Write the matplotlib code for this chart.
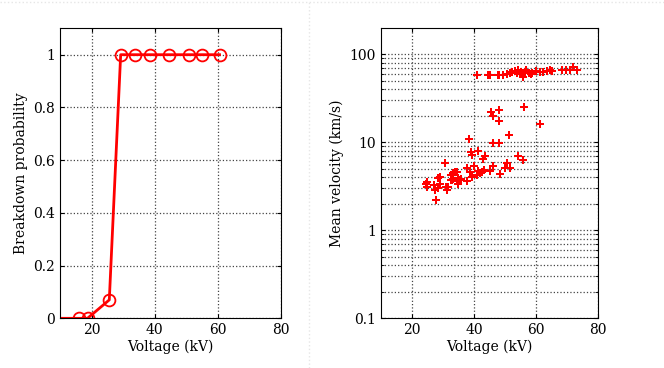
import numpy as np
import matplotlib
matplotlib.use('Agg')
import matplotlib.pyplot as plt
from matplotlib.ticker import FixedLocator, FuncFormatter, LogLocator, NullFormatter

# breakdown probability vs voltage
volt_p = [7, 16.0, 18.7, 25.6, 29.2, 33.8, 38.4, 44.6, 50.9, 54.9, 60.5]
prob = [0, 0, 0, 0.07, 1, 1, 1, 1, 1, 1, 1]

# mean velocity vs voltage
volt_v = [41.1, 44.6, 45.2, 47.6, 48.2, 49.4, 50.5, 51.6, 52.4, 53.2, 53.7, 54.3,
          54.8, 55.3, 55.9, 56.4, 56.9, 57.8, 58.3, 58.8, 60.1, 61.1, 62.3, 63.4,
          64.4, 65.0, 68.2, 69.6, 70.9, 72.0, 73.2,
          45.4, 46.2, 48.0, 48.0, 56.2, 61.4, 51.4, 38.4, 46.2, 48.0,
          39.05, 41.2, 39.4, 43.5, 43.0, 54.3, 55.9, 30.7, 50.8, 46.2, 40.0, 37.7,
          50.0, 51.6, 33.9, 33.2, 32.5, 34.7, 38.7, 41.4, 41.9, 42.5, 41.1, 39.3,
          29.1, 28.5, 48.4, 45.2, 43.3, 35.0, 34.4, 35.5, 36.0, 34.8, 33.4, 32.8,
          37.9, 29.1, 27.3, 28.5, 24.8, 24.6, 25.0, 31.0, 31.4, 27.5, 31.8, 27.7,
          32.5]
vel = [57.8, 58.8, 58.8, 58.8, 58.8, 58.8, 60.4, 61.9, 63.0, 64.7, 61.4, 65.8,
       60.4, 63.0, 55.3, 63.0, 65.8, 61.9, 60.4, 61.4, 64.0, 63.0, 63.0, 64.0,
       65.8, 64.7, 65.8, 65.8, 65.8, 71.8, 65.8,
       21.8, 19.8, 23.0, 17.4, 25.2, 16.3, 12.2, 11.0, 9.7, 9.7,
       7.66, 7.93, 7.14, 6.95, 6.43, 6.95, 6.27, 5.74, 5.85, 5.41, 5.41, 5.04,
       5.04, 5.04, 4.54, 4.42, 4.24, 4.62, 4.54, 4.70, 4.42, 4.54, 4.24, 4.06,
       3.99, 3.88, 4.31, 4.74, 4.83, 3.88, 3.65, 3.71, 3.78, 3.40, 3.78, 3.71,
       3.65, 3.40, 3.26, 2.99, 3.56, 3.35, 3.13, 3.13, 2.86, 2.86, 3.13, 2.20,
       3.71]

plt.rcParams['font.family'] = 'DejaVu Serif'
plt.rcParams['font.size'] = 10

fig = plt.figure(figsize=(6.64, 3.68), dpi=100)
fig.lines.append(plt.Line2D([0.465, 0.465], [0, 0.995], transform=fig.transFigure,
                            color='#e6e6e6', lw=1, ls=':'))
fig.lines.append(plt.Line2D([0, 1], [0.995, 0.995], transform=fig.transFigure,
                            color='#e6e6e6', lw=1, ls=':'))

def style(ax):
    ax.tick_params(direction='in', top=True, right=True, length=3, width=0.8)
    for s in ax.spines.values():
        s.set_linewidth(0.8)

# left panel
ax1 = fig.add_axes([0.0904, 0.135, 0.333, 0.788])
ax1.plot(volt_p, prob, '-o', color='red', lw=2, mfc='none', mec='red', ms=8.5, mew=1.3)
ax1.set_xlim(10, 80)
ax1.set_ylim(0, 1.1)
ax1.xaxis.set_major_locator(FixedLocator([20, 40, 60, 80]))
ax1.yaxis.set_major_locator(FixedLocator([0, 0.2, 0.4, 0.6, 0.8, 1]))
ax1.yaxis.set_major_formatter(FuncFormatter(lambda v, p: '%g' % v))
ax1.grid(True, ls=':', color='#444444', lw=0.9)
ax1.set_xlabel('Voltage (kV)', labelpad=2)
ax1.set_ylabel('Breakdown probability')
style(ax1)

# right panel
ax2 = fig.add_axes([0.5733, 0.135, 0.3277, 0.788])
ax2.plot(volt_v, vel, 'P', color='red', ms=5.5, mew=0)
ax2.set_yscale('log')
ax2.set_xlim(10, 80)
ax2.set_ylim(0.1, 197)
ax2.xaxis.set_major_locator(FixedLocator([20, 40, 60, 80]))
ax2.yaxis.set_major_locator(FixedLocator([0.1, 1, 10, 100]))
ax2.yaxis.set_major_formatter(FuncFormatter(lambda v, p: '%g' % v))
ax2.yaxis.set_minor_locator(LogLocator(base=10, subs=np.arange(2, 10)))
ax2.yaxis.set_minor_formatter(NullFormatter())
ax2.grid(True, which='major', ls=':', color='#444444', lw=0.9)
ax2.grid(True, which='minor', axis='y', ls=':', color='#444444', lw=0.9)
ax2.set_xlabel('Voltage (kV)', labelpad=2)
ax2.set_ylabel('Mean velocity (km/s)')
style(ax2)
ax2.tick_params(which='minor', direction='in', right=True, length=2)

fig.savefig('out.png', dpi=100)
